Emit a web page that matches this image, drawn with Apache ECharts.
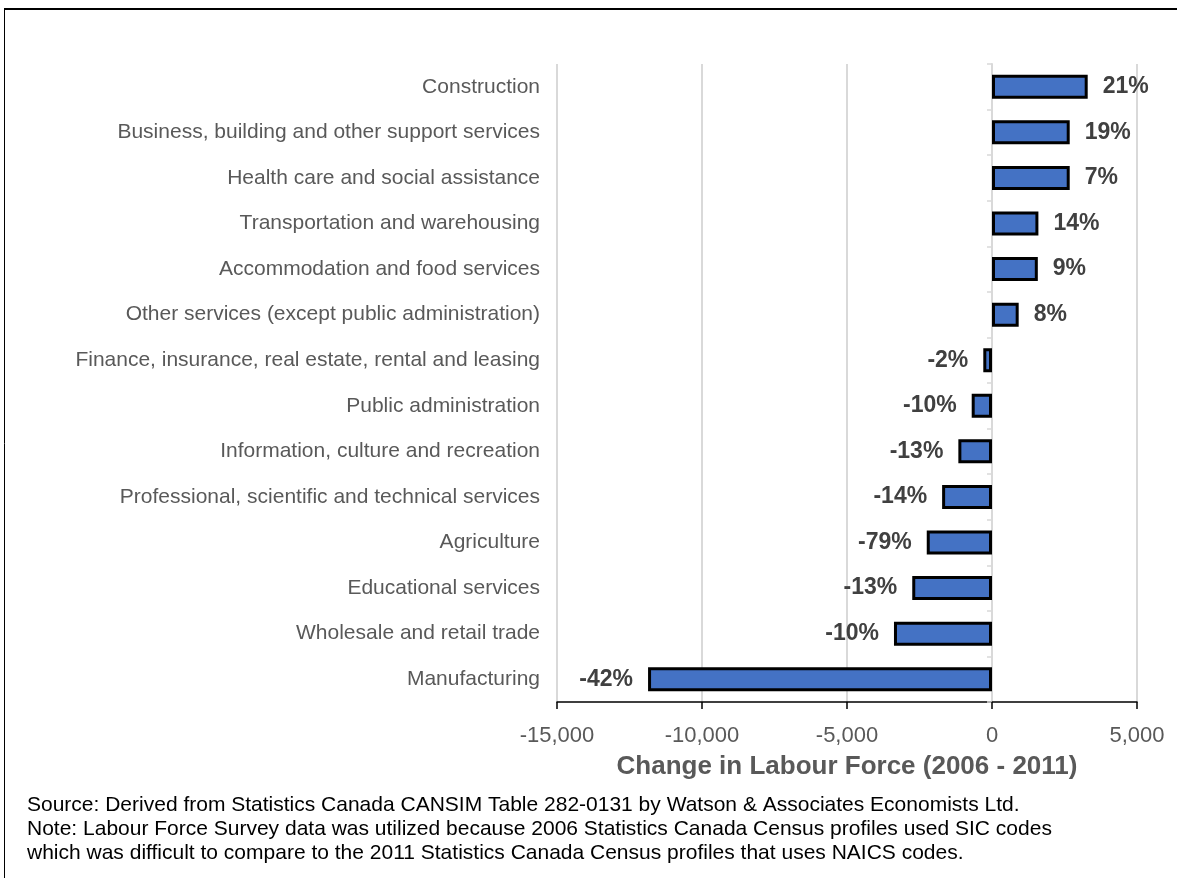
<!DOCTYPE html>
<html>
<head>
<meta charset="utf-8">
<title>Change in Labour Force by Industry (2006 - 2011)</title>
<script src="https://cdn.jsdelivr.net/npm/echarts@6/dist/echarts.min.js"></script>
<style>
  html, body { margin: 0; padding: 0; background: #ffffff; }
  #chart { width: 1177px; height: 878px; }
</style>
</head>
<body>
<div id="chart"></div>
<script>
// Industries, listed top to bottom
const industries = [
  'Construction',
  'Business, building and other support services',
  'Health care and social assistance',
  'Transportation and warehousing',
  'Accommodation and food services',
  'Other services (except public administration)',
  'Finance, insurance, real estate, rental and leasing',
  'Public administration',
  'Information, culture and recreation',
  'Professional, scientific and technical services',
  'Agriculture',
  'Educational services',
  'Wholesale and retail trade',
  'Manufacturing'
];

// Absolute change in labour force, 2006 - 2011
const laborChange = [3300, 2680, 2680, 1600, 1580, 920, -300, -700, -1160, -1720, -2250, -2750, -3380, -11860];

// Percentage change shown beside each bar
const pctChange = ['21%', '19%', '7%', '14%', '9%', '8%', '-2%', '-10%', '-13%', '-14%', '-79%', '-13%', '-10%', '-42%'];

// Value axis range and step
const axisMin = -15000;
const axisMax = 5000;
const axisStep = 5000;

const notes = [
  'Source: Derived from Statistics Canada CANSIM Table 282-0131 by Watson & Associates Economists Ltd.',
  'Note: Labour Force Survey data was utilized because 2006 Statistics Canada Census profiles used SIC codes',
  'which was difficult to compare to the 2011 Statistics Canada Census profiles that uses NAICS codes.'
];

const FONT = '"Liberation Sans", Arial, sans-serif';

const chart = echarts.init(document.getElementById('chart'), null, { renderer: 'canvas' });

const barData = laborChange.map((v, i) => ({
  value: v,
  label: {
    position: v >= 0 ? 'right' : 'left',
    formatter: pctChange[i]
  }
}));

const option = {
  backgroundColor: '#ffffff',
  animation: false,
  grid: { left: 557, right: 40, top: 64, bottom: 176, containLabel: false },
  xAxis: {
    type: 'value',
    min: axisMin,
    max: axisMax,
    interval: axisStep,
    name: 'Change in Labour Force (2006 - 2011)',
    nameLocation: 'middle',
    nameGap: 52,
    nameTextStyle: { fontFamily: FONT, fontSize: 26, fontWeight: 'bold', color: '#595959' },
    axisLine: { show: true, onZero: false, lineStyle: { color: '#000000', width: 1.5 } },
    axisTick: { show: true, length: 7, lineStyle: { color: '#000000', width: 1.5 } },
    axisLabel: {
      fontFamily: FONT, fontSize: 22, color: '#595959', margin: 23,
      formatter: v => v.toLocaleString('en-US')
    },
    splitLine: { show: true, lineStyle: { color: '#d9d9d9', width: 2 } }
  },
  yAxis: [
    {
      type: 'category',
      data: industries,
      inverse: true,
      axisLine: { show: false, onZero: false },
      axisTick: { show: false },
      axisLabel: { fontFamily: FONT, fontSize: 21, color: '#595959', margin: 17 }
    },
    {
      // zero baseline with band ticks
      type: 'category',
      data: industries,
      inverse: true,
      position: 'left',
      axisLine: { show: true, onZero: true, lineStyle: { color: '#d9d9d9', width: 2 } },
      axisTick: { show: true, length: 5, lineStyle: { color: '#d9d9d9', width: 1.5 } },
      axisLabel: { show: false },
      splitLine: { show: false }
    }
  ],
  series: [
    {
      type: 'bar',
      yAxisIndex: 0,
      data: barData,
      barWidth: 24,
      itemStyle: { color: '#4472c4', borderColor: '#000000', borderWidth: 3 },
      label: {
        show: true,
        distance: 15,
        fontFamily: FONT,
        fontSize: 23,
        fontWeight: 'bold',
        color: '#404040'
      }
    }
  ],
  graphic: [
    {
      type: 'line',
      shape: { x1: 4, y1: 9, x2: 1177, y2: 9 },
      style: { stroke: '#000000', lineWidth: 2 }
    },
    {
      type: 'line',
      shape: { x1: 4.5, y1: 9, x2: 4.5, y2: 878 },
      style: { stroke: '#000000', lineWidth: 1 }
    },
    ...notes.map((t, i) => ({
      type: 'text',
      left: 27,
      top: 795 + i * 24,
      style: { text: t, fontFamily: FONT, fontSize: 21, fill: '#000000' }
    }))
  ]
};

chart.setOption(option);
</script>
</body>
</html>
